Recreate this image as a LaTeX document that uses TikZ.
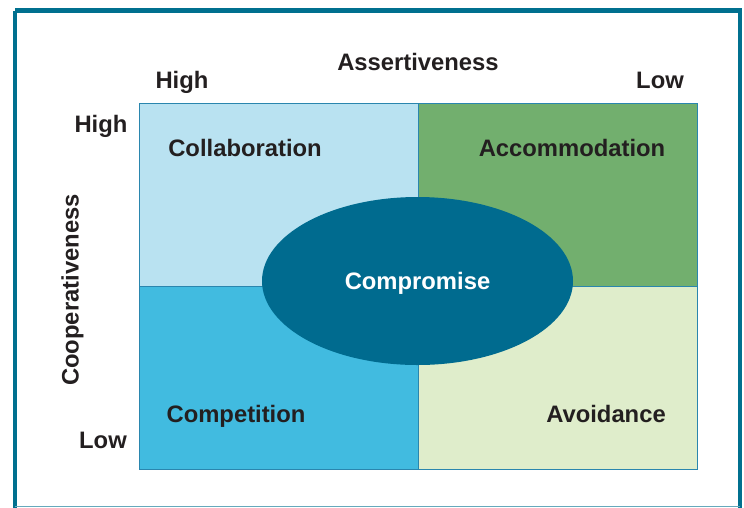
\documentclass[tikz,border=0pt]{standalone}
\usepackage{fontspec}
\setmainfont{Liberation Sans}
\usetikzlibrary{shapes.geometric}
\definecolor{frameblue}{HTML}{00708F}
\definecolor{edgeblue}{HTML}{2A86AE}
\definecolor{collab}{HTML}{B9E2F1}
\definecolor{accom}{HTML}{72AF6E}
\definecolor{compet}{HTML}{41BBE0}
\definecolor{avoid}{HTML}{DFEDCB}
\definecolor{compro}{HTML}{006B8F}
\definecolor{txt}{HTML}{231F20}
\begin{document}
\begin{tikzpicture}[x=1pt,y=-1pt,
  lbl/.style={font=\fontsize{23.8}{28}\selectfont\bfseries, text=txt, inner sep=0pt, text height=17pt, text depth=0pt},
  quad/.style={draw=edgeblue, line width=1pt, inner sep=0pt, anchor=north west}]
\useasboundingbox (0,0) rectangle (744,507);
\draw[frameblue, line width=4.5pt] (15.2,10.7) -- (740,10.7) -- (740,512) (15.2,10.7) -- (15.2,512);
\draw[frameblue!60, line width=1pt] (15.2,506.5) -- (740,506.5);
% quadrants
\node[quad, fill=collab, minimum width=279pt, minimum height=183pt] (q1) at (139,103) {};
\node[quad, fill=accom, minimum width=279pt, minimum height=183pt] (q2) at (418,103) {};
\node[quad, fill=compet, minimum width=279pt, minimum height=183pt] (q3) at (139,286) {};
\node[quad, fill=avoid, minimum width=279pt, minimum height=183pt] (q4) at (418,286) {};
\node[ellipse, fill=compro, minimum width=311pt, minimum height=168pt, inner sep=0pt] (cmp) at (417.5,281) {};
\node[lbl, text=white] (cmpt) at (417.5,280.5) {Compromise};
% quadrant labels
\node[lbl] (t1) at (245,147.7) {Collaboration};
\node[lbl] (t2) at (572,147.7) {Accommodation};
\node[lbl] (t3) at (236,414) {Competition};
\node[lbl] (t4) at (606,414) {Avoidance};
% axes
\node[lbl] (ass) at (418,62) {Assertiveness};
\node[lbl] (ah) at (182,80) {High};
\node[lbl] (al) at (660,80) {Low};
\node[lbl] (ch) at (101,123.5) {High};
\node[lbl] (cl) at (103,440) {Low};
\node[lbl, rotate=90] (coop) at (70,290) {Cooperativeness};
\end{tikzpicture}
\end{document}
